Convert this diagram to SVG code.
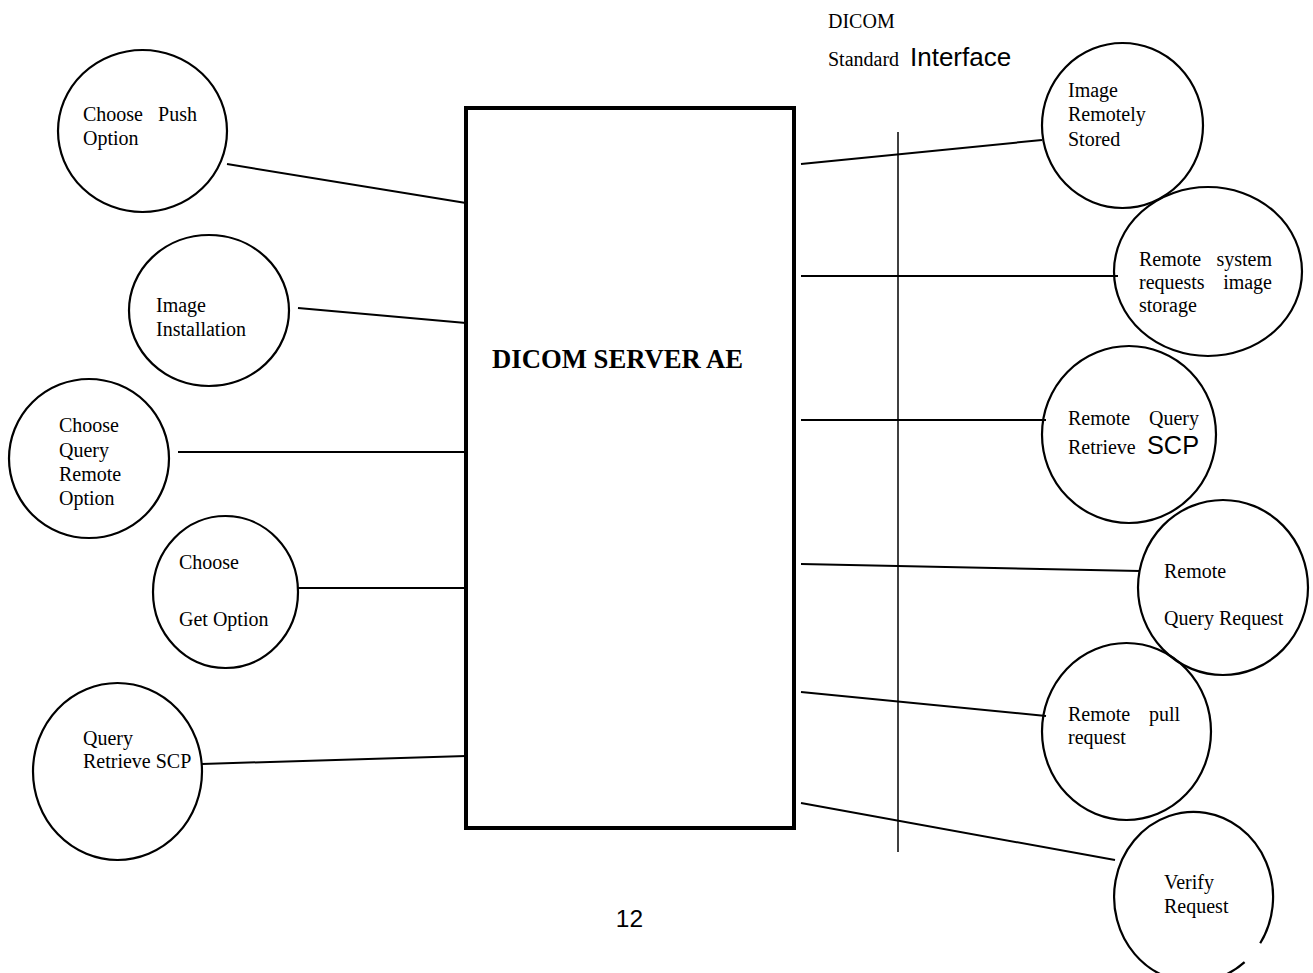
<svg xmlns="http://www.w3.org/2000/svg" width="1313" height="973" viewBox="0 0 1313 973">
  <style>
    .bubble { fill: none; stroke: #000; stroke-width: 2.2; }
    .link { fill: none; stroke: #000; stroke-width: 2; }
    .t { font-family: "Liberation Serif", "Times New Roman", serif; font-size: 20px; fill: #000; }
    .end { text-anchor: end; }
    .sans { font-family: "Liberation Sans", Arial, sans-serif; fill: #000; }
  </style>
  <rect width="1313" height="973" fill="#fff"/>

  <!-- interface heading -->
  <g id="interface-label">
    <text class="t" x="828" y="28">DICOM</text>
    <text class="t" x="828" y="66">Standard</text>
    <text class="sans" x="910" y="66" font-size="26">Interface</text>
  </g>

  <!-- interface boundary -->
  <line id="boundary" x1="898" y1="132" x2="898" y2="852" stroke="#000" stroke-width="1.5"/>

  <!-- connectors -->
  <g id="connectors">
    <line class="link" x1="227" y1="164" x2="466" y2="203"/>
    <line class="link" x1="298" y1="308" x2="466" y2="323"/>
    <line class="link" x1="178" y1="452" x2="466" y2="452"/>
    <line class="link" x1="298" y1="588" x2="466" y2="588"/>
    <line class="link" x1="202" y1="764" x2="466" y2="756"/>
    <line class="link" x1="801" y1="164" x2="1042" y2="140"/>
    <line class="link" x1="801" y1="276" x2="1118" y2="276"/>
    <line class="link" x1="801" y1="420" x2="1046" y2="420"/>
    <line class="link" x1="801" y1="564" x2="1140" y2="571"/>
    <line class="link" x1="801" y1="692" x2="1046" y2="716"/>
    <line class="link" x1="801" y1="803" x2="1115" y2="860"/>
  </g>

  <!-- central application entity -->
  <g id="server-ae">
    <rect x="466" y="108" width="328" height="720" fill="none" stroke="#000" stroke-width="4"/>
    <text x="492" y="368" font-family="Liberation Serif, Times New Roman, serif" font-weight="bold" font-size="26.7">DICOM SERVER AE</text>
  </g>

  <!-- local activities -->
  <g id="choose-push">
    <ellipse class="bubble" cx="142.5" cy="131" rx="84.5" ry="81"/>
    <text class="t" x="83" y="121">Choose</text>
    <text class="t end" x="197" y="121">Push</text>
    <text class="t" x="83" y="145">Option</text>
  </g>

  <g id="image-installation">
    <ellipse class="bubble" cx="209" cy="310.5" rx="80" ry="75.5"/>
    <text class="t" x="156" y="312">Image</text>
    <text class="t" x="156" y="336">Installation</text>
  </g>

  <g id="choose-query-remote">
    <ellipse class="bubble" cx="89" cy="458.5" rx="80" ry="79.5"/>
    <text class="t" x="59" y="432">Choose</text>
    <text class="t" x="59" y="456.5">Query</text>
    <text class="t" x="59" y="481">Remote</text>
    <text class="t" x="59" y="505">Option</text>
  </g>

  <g id="choose-get">
    <ellipse class="bubble" cx="225.5" cy="592" rx="72.5" ry="76"/>
    <text class="t" x="179" y="569">Choose</text>
    <text class="t" x="179" y="626">Get Option</text>
  </g>

  <g id="query-retrieve-scp">
    <ellipse class="bubble" cx="117.5" cy="771.5" rx="84.5" ry="88.5"/>
    <text class="t" x="83" y="745">Query</text>
    <text class="t" x="83" y="768">Retrieve SCP</text>
  </g>

  <!-- remote activities -->
  <g id="image-remotely-stored">
    <ellipse class="bubble" cx="1122.5" cy="125.5" rx="80.5" ry="82.5"/>
    <text class="t" x="1068" y="97">Image</text>
    <text class="t" x="1068" y="121">Remotely</text>
    <text class="t" x="1068" y="146">Stored</text>
  </g>

  <g id="remote-storage-request">
    <ellipse class="bubble" cx="1208" cy="271.5" rx="94" ry="84.5"/>
    <text class="t" x="1139" y="266">Remote</text>
    <text class="t end" x="1272" y="266">system</text>
    <text class="t" x="1139" y="289">requests</text>
    <text class="t end" x="1272" y="289">image</text>
    <text class="t" x="1139" y="312">storage</text>
  </g>

  <g id="remote-query-retrieve-scp">
    <ellipse class="bubble" cx="1129" cy="434.5" rx="87" ry="88.5"/>
    <text class="t" x="1068" y="425">Remote</text>
    <text class="t end" x="1199" y="425">Query</text>
    <text class="t" x="1068" y="454">Retrieve</text>
    <text class="sans" x="1199" y="454" font-size="25.3" text-anchor="end">SCP</text>
  </g>

  <g id="remote-query-request">
    <ellipse class="bubble" cx="1223" cy="587.5" rx="85" ry="87.5"/>
    <text class="t" x="1164" y="578">Remote</text>
    <text class="t" x="1164" y="625">Query Request</text>
  </g>

  <g id="remote-pull-request">
    <ellipse class="bubble" cx="1126.5" cy="731.5" rx="84.5" ry="88.5"/>
    <text class="t" x="1068" y="721">Remote</text>
    <text class="t end" x="1180" y="721">pull</text>
    <text class="t" x="1068" y="744">request</text>
  </g>

  <g id="verify-request">
    <!-- outline left open at the lower right -->
    <path class="bubble" d="M1244.6 962.1 A79.5 85 0 1 1 1260.2 943.3"/>
    <text class="t" x="1164" y="889">Verify</text>
    <text class="t" x="1164" y="913">Request</text>
  </g>

  <!-- page number -->
  <text id="page-number" class="sans" x="629.5" y="927" font-size="24.5" text-anchor="middle">12</text>
</svg>
